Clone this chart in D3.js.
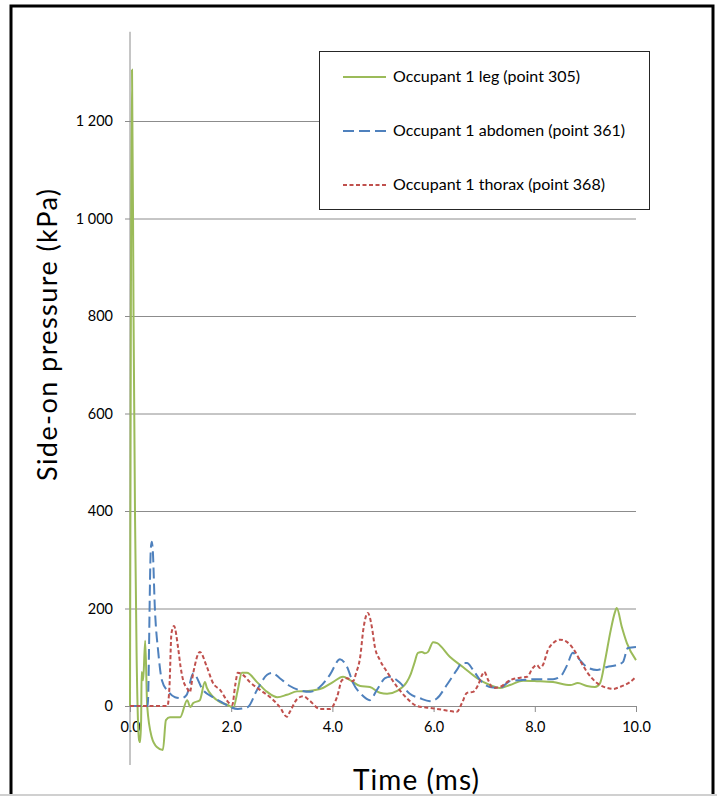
<!DOCTYPE html>
<html>
<head>
<meta charset="utf-8">
<script src="https://cdn.jsdelivr.net/npm/d3@7"></script>
<style>
  body { margin: 0; background: #fff; }
  svg text { font-family: Lato, "Open Sans", sans-serif; fill: #000; }
</style>
</head>
<body>
<div id="chart"></div>
<script>
'use strict'

// [time (ms), side-on pressure (kPa)]
const legData = [[0,0],[0.04,1305],[0.07,800],[0.10,382],[0.13,109],[0.18,-70],[0.20,-74],[0.22,-29],[0.23,70],[0.26,53],[0.30,134],
  [0.34,0],[0.43,-64],[0.53,-84],[0.65,-90],[0.71,-29],[0.79,-23],[0.99,-23],[1.13,12],[1.19,-2],[1.25,6],[1.38,12],[1.48,49],
  [1.52,37],[1.64,19],[1.78,8],[1.94,2],[2.04,-4],[2.13,33],[2.21,68],[2.31,68],[2.51,49],[2.71,29],[2.91,18],[3.10,23],[3.30,30],
  [3.52,31],[3.81,37],[4.01,49],[4.21,60],[4.35,53],[4.55,41],[4.74,39],[4.94,27],[5.08,25],[5.28,31],[5.47,49],[5.55,66],
  [5.62,88],[5.69,109],[5.77,111],[5.83,108],[5.89,111],[5.99,131],[6.07,129],[6.32,101],[6.58,80],[6.86,57],[7.11,43],[7.31,37],
  [7.51,43],[7.77,52],[8.04,51],[8.36,49],[8.70,43],[8.85,47],[9.03,41],[9.19,39],[9.29,47],[9.39,94],[9.49,150],[9.58,191],
  [9.62,201],[9.72,162],[9.82,129],[10.0,94]]

const abdomenData = [[0,0],[0.35,0],[0.41,320],[0.43,337],[0.45,320],[0.49,204],[0.56,109],[0.63,53],[0.76,29],[0.89,18],[1.02,16],
  [1.12,23],[1.25,67],[1.44,33],[1.64,18],[1.84,6],[1.98,-2],[2.13,-6],[2.33,-2],[2.51,33],[2.71,64],[2.81,68],[2.96,57],[3.16,41],
  [3.36,32],[3.56,29],[3.75,39],[3.95,64],[4.15,96],[4.29,80],[4.41,47],[4.58,23],[4.74,12],[4.88,33],[5.04,57],[5.14,60],[5.34,47],
  [5.53,25],[5.73,16],[5.93,10],[6.07,16],[6.26,43],[6.46,74],[6.56,88],[6.66,88],[6.78,74],[6.92,53],[7.11,39],[7.31,37],[7.51,51],
  [7.71,53],[8.04,55],[8.36,55],[8.50,60],[8.64,84],[8.75,109],[8.85,99],[9.03,80],[9.23,74],[9.43,80],[9.62,84],[9.74,90],
  [9.84,119],[10.0,121]]

const thoraxData = [[0,0],[0.74,0],[0.78,40],[0.82,150],[0.87,164],[0.95,120],[1.0,80],[1.05,53],[1.13,36],[1.18,28],[1.25,68],
  [1.38,111],[1.52,80],[1.64,47],[1.78,33],[1.94,8],[2.02,2],[2.08,43],[2.13,68],[2.23,64],[2.37,49],[2.57,33],[2.77,18],[2.96,-2],
  [3.10,-22],[3.16,-12],[3.30,14],[3.42,20],[3.56,10],[3.75,-6],[3.95,-6],[4.09,18],[4.19,53],[4.29,57],[4.41,51],[4.47,68],
  [4.55,101],[4.61,156],[4.70,191],[4.78,162],[4.84,121],[4.94,94],[5.08,70],[5.28,39],[5.47,16],[5.67,0],[5.93,-4],[6.19,-8],
  [6.46,-12],[6.56,6],[6.66,27],[6.78,29],[6.88,43],[6.96,64],[7.0,70],[7.08,53],[7.17,37],[7.31,39],[7.51,53],[7.71,58],[7.85,60],
  [7.96,78],[8.04,84],[8.10,78],[8.16,84],[8.26,115],[8.36,129],[8.50,136],[8.64,131],[8.75,119],[8.89,94],[9.03,70],[9.23,47],
  [9.43,37],[9.55,35],[9.68,39],[9.88,49],[10.0,60]]

const seriesNames = ['Occupant 1 leg (point 305)', 'Occupant 1 abdomen (point 361)', 'Occupant 1 thorax (point 368)']
const yTicks = [0, 200, 400, 600, 800, 1000, 1200]
const xTicks = [0, 2, 4, 6, 8, 10]

////////////////////////////////////
//////////// svg setup /////////////
////////////////////////////////////

const svgWidth = 717, svgHeight = 796

const svg = d3.select('#chart').append('svg')
    .attr('width', svgWidth)
    .attr('height', svgHeight)

// outer frame
svg.append('rect')
    .attr('x', 11).attr('y', 6)
    .attr('width', 702).attr('height', 800)
    .attr('fill', 'none')
    .attr('stroke', '#000')
    .attr('stroke-width', 3)

svg.append('line')
    .attr('x1', 0).attr('x2', svgWidth)
    .attr('y1', 795).attr('y2', 795)
    .attr('stroke', '#d0d0d0')
    .attr('stroke-width', 2)

////////////////////////////////////
//////////////scales////////////////
////////////////////////////////////

const x = d3.scaleLinear().domain([0, 10]).range([130, 636])
const y = d3.scaleLinear().domain([0, 1200]).range([706, 121])

const fmt = d3.formatLocale({decimal: '.', thousands: ' ', grouping: [3], currency: ['', '']}).format(',d')

// gridlines + y ticks
const yAxis = d3.axisLeft(y)
    .tickValues(yTicks)
    .tickSize(-(x(10) - x(0)) - 5)
    .tickPadding(12)
    .tickFormat(fmt)

svg.append('g')
    .attr('transform', `translate(${x(0) - 5},0)`)
    .call(yAxis)
    .call(g => g.select('.domain').remove())
    .call(g => g.selectAll('.tick line').attr('stroke', '#8c8c8c').attr('transform', 'translate(5,0)').attr('x2', x(10) - x(0)).attr('x1', -5))
    .call(g => g.selectAll('.tick text').attr('font-size', 14.5).attr('x', -12).attr('fill', '#000'))

// x ticks
const xAxis = d3.axisBottom(x)
    .tickValues(xTicks)
    .tickSize(6)
    .tickPadding(10)
    .tickFormat(d3.format('.1f'))

svg.append('g')
    .attr('transform', `translate(0,${y(0)})`)
    .call(xAxis)
    .call(g => g.select('.domain').remove())
    .call(g => g.selectAll('.tick line').attr('stroke', '#8c8c8c'))
    .call(g => g.selectAll('.tick text').attr('font-size', 14.5).attr('fill', '#000'))

// y axis line (runs past the zero line)
svg.append('line')
    .attr('x1', x(0)).attr('x2', x(0))
    .attr('y1', y(-121)).attr('y2', y(1383))
    .attr('stroke', '#8c8c8c')
    .attr('stroke-width', 1)

////////////////////////////////////
//////////////lines/////////////////
////////////////////////////////////

const line = d3.line()
    .x(d => x(d[0]))
    .y(d => y(d[1]))
    .curve(d3.curveMonotoneX)

const styles = [
    {data: legData, color: '#9bbb59', dash: null},
    {data: abdomenData, color: '#4f81bd', dash: '11,5'},
    {data: thoraxData, color: '#c0504d', dash: '4,2.5'}
]

svg.append('g').attr('id', 'lines')
    .selectAll('path')
    .data(styles)
    .join('path')
        .attr('d', d => line(d.data))
        .attr('fill', 'none')
        .attr('stroke', d => d.color)
        .attr('stroke-width', 2)
        .attr('stroke-dasharray', d => d.dash)

////////////////////////////////////
//////////////legend////////////////
////////////////////////////////////

const legend = svg.append('g').attr('id', 'legend')

legend.append('rect')
    .attr('x', 319.5).attr('y', 51.5)
    .attr('width', 330).attr('height', 158)
    .attr('fill', '#fff')
    .attr('stroke', '#262626')
    .attr('stroke-width', 1)

styles.forEach((s, i) => {
    const ly = 77 + i * 54
    legend.append('line')
        .attr('x1', 343).attr('x2', 386)
        .attr('y1', ly).attr('y2', ly)
        .attr('stroke', s.color)
        .attr('stroke-width', 2)
        .attr('stroke-dasharray', s.dash)
    legend.append('text')
        .attr('x', 393).attr('y', ly + 5)
        .attr('font-size', 16)
        .text(seriesNames[i])
})

// axis titles
svg.append('text')
    .attr('transform', `translate(57,335) rotate(-90)`)
    .attr('text-anchor', 'middle')
    .attr('font-size', 27)
    .attr('textLength', 292)
    .attr('lengthAdjust', 'spacing')
    .text('Side-on pressure (kPa)')

svg.append('text')
    .attr('x', 416).attr('y', 790)
    .attr('text-anchor', 'middle')
    .attr('font-size', 28)
    .attr('textLength', 126)
    .attr('lengthAdjust', 'spacing')
    .text('Time (ms)')
</script>
</body>
</html>
